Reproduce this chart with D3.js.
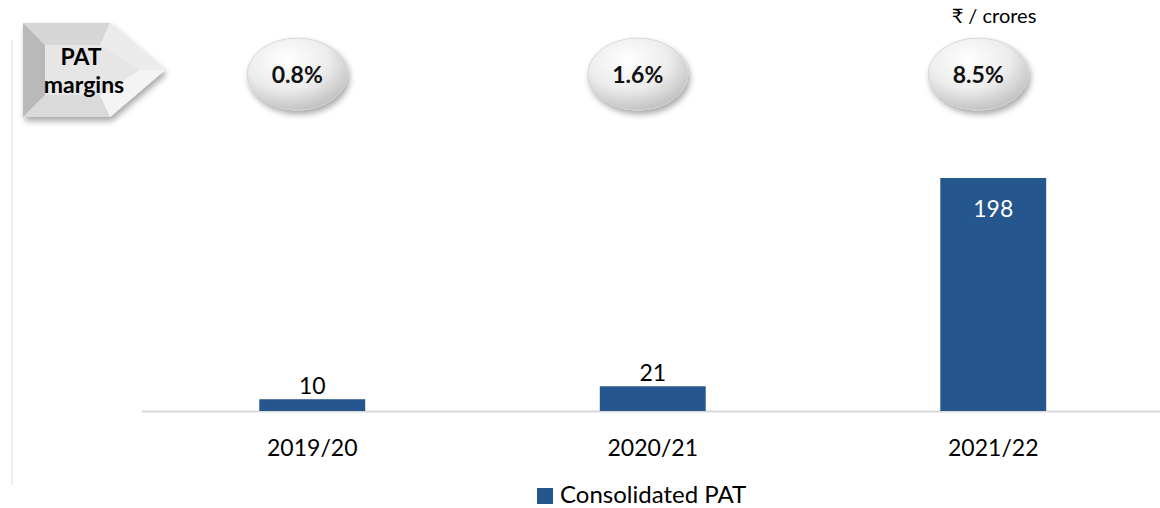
<!DOCTYPE html>
<html><head><meta charset="utf-8">
<script src="https://cdn.jsdelivr.net/npm/d3@7"></script>
<style>body{margin:0;background:#fff}svg{display:block}</style>
</head><body>
<svg id="c" width="1160" height="508"></svg>
<script>
const categories = ["2019/20", "2020/21", "2021/22"];
const patValues = [10, 21, 198];
const patLabels = ["10", "21", "198"];
const margins = ["0.8%", "1.6%", "8.5%"];
const seriesName = "Consolidated PAT";
const unitLabel = "₹ / crores";

const svg = d3.select("#c");
const font = "Lato, 'Open Sans', sans-serif";
const barColor = "#26568e";

const defs = svg.append("defs");
const rg = defs.append("radialGradient").attr("id","bub").attr("cx","40%").attr("cy","30%").attr("r","75%");
rg.append("stop").attr("offset","0%").attr("stop-color","#ffffff");
rg.append("stop").attr("offset","55%").attr("stop-color","#ececec");
rg.append("stop").attr("offset","100%").attr("stop-color","#bdbdbd");
const sh = defs.append("filter").attr("id","sh").attr("x","-30%").attr("y","-30%").attr("width","160%").attr("height","170%");
sh.append("feGaussianBlur").attr("in","SourceAlpha").attr("stdDeviation",3);
sh.append("feOffset").attr("dx",2).attr("dy",4).attr("result","o");
sh.append("feComponentTransfer").append("feFuncA").attr("type","linear").attr("slope",0.35);
const fm = sh.append("feMerge"); fm.append("feMergeNode"); fm.append("feMergeNode").attr("in","SourceGraphic");
const lg = defs.append("linearGradient").attr("id","arr").attr("x1","0").attr("x2","1").attr("y1","0").attr("y2","0");
lg.append("stop").attr("offset","0%").attr("stop-color","#c8c8c8");
lg.append("stop").attr("offset","60%").attr("stop-color","#e4e4e4");
lg.append("stop").attr("offset","100%").attr("stop-color","#f2f2f2");

// left vertical rule
svg.append("line").attr("x1",12).attr("x2",12).attr("y1",40).attr("y2",485)
  .attr("stroke","#eeeeee").attr("stroke-width",2);

const x = d3.scaleBand().domain(categories).range([142,1163.5]).paddingInner(0.689).paddingOuter(0.3445);
const y = d3.scaleLinear().domain([0,198]).range([411,178]);

// baseline
svg.append("line").attr("x1",142).attr("x2",1160).attr("y1",y(0)+0.5).attr("y2",y(0)+0.5)
  .attr("stroke","#d9d9d9").attr("stroke-width",2);

svg.selectAll("rect.bar").data(patValues).join("rect").attr("class","bar")
  .attr("x",(d,i)=>x(categories[i])).attr("width",x.bandwidth())
  .attr("y",d=>y(d)).attr("height",d=>y(0)-y(d)).attr("fill",barColor);

svg.selectAll("text.val").data(patValues).join("text").attr("class","val")
  .attr("x",(d,i)=>x(categories[i])+x.bandwidth()/2)
  .attr("y",(d,i)=> d>100 ? y(d)+39 : y(d)-5)
  .attr("text-anchor","middle").attr("font-family",font).attr("font-size",23)
  .attr("fill",(d)=> d>100 ? "#ffffff" : "#000000")
  .text((d,i)=>patLabels[i]);

svg.selectAll("text.cat").data(categories).join("text").attr("class","cat")
  .attr("x",d=>x(d)+x.bandwidth()/2).attr("y",456)
  .attr("text-anchor","middle").attr("font-family",font).attr("font-size",23).attr("fill","#000")
  .text(d=>d);

// bubbles
const bg = svg.selectAll("g.bub").data(margins).join("g").attr("class","bub")
  .attr("transform",(d,i)=>`translate(${x(categories[i])+x.bandwidth()/2-15},74)`);
bg.append("ellipse").attr("rx",50).attr("ry",36).attr("fill","url(#bub)")
  .attr("stroke","#d0d0d0").attr("stroke-width",0.8).attr("filter","url(#sh)");
bg.append("text").attr("y",9).attr("text-anchor","middle").attr("font-family",font)
  .attr("font-weight","bold").attr("font-size",23).attr("fill","#111").text(d=>d);

// unit label
svg.append("text").attr("x",994).attr("y",23).attr("text-anchor","middle")
  .attr("font-family",font).attr("font-size",20).attr("fill","#000").text(unitLabel);

// PAT margins arrow
const ag = svg.append("g");
ag.append("polygon").attr("points","23,23 110,23 165,70 110,117 23,117")
  .attr("fill","url(#arr)").attr("filter","url(#sh)");
ag.append("polygon").attr("points","23,23 45,45 45,95 23,117").attr("fill","#b9b9b9");
ag.append("polygon").attr("points","23,23 110,23 100,45 45,45").attr("fill","#d6d6d6");
ag.append("polygon").attr("points","110,23 165,70 140,70 100,45").attr("fill","#ebebeb");
ag.append("polygon").attr("points","23,117 45,95 100,95 110,117").attr("fill","#dadada");
ag.append("polygon").attr("points","110,117 165,70 140,70 100,95").attr("fill","#f4f4f4");
ag.append("polygon").attr("points","45,45 100,45 140,70 100,95 45,95").attr("fill","#e6e6e6");
ag.append("text").attr("x",81).attr("y",65).attr("text-anchor","middle").attr("font-family",font)
  .attr("font-weight","bold").attr("font-size",23).attr("fill","#000").text("PAT");
ag.append("text").attr("x",84).attr("y",93).attr("text-anchor","middle").attr("font-family",font)
  .attr("font-weight","bold").attr("font-size",23).attr("fill","#000").text("margins");

// legend
svg.append("rect").attr("x",537).attr("y",488).attr("width",16).attr("height",16).attr("fill",barColor);
svg.append("text").attr("x",560).attr("y",503).attr("font-family",font).attr("font-size",24)
  .attr("fill","#000").text(seriesName);
</script>
</body></html>
